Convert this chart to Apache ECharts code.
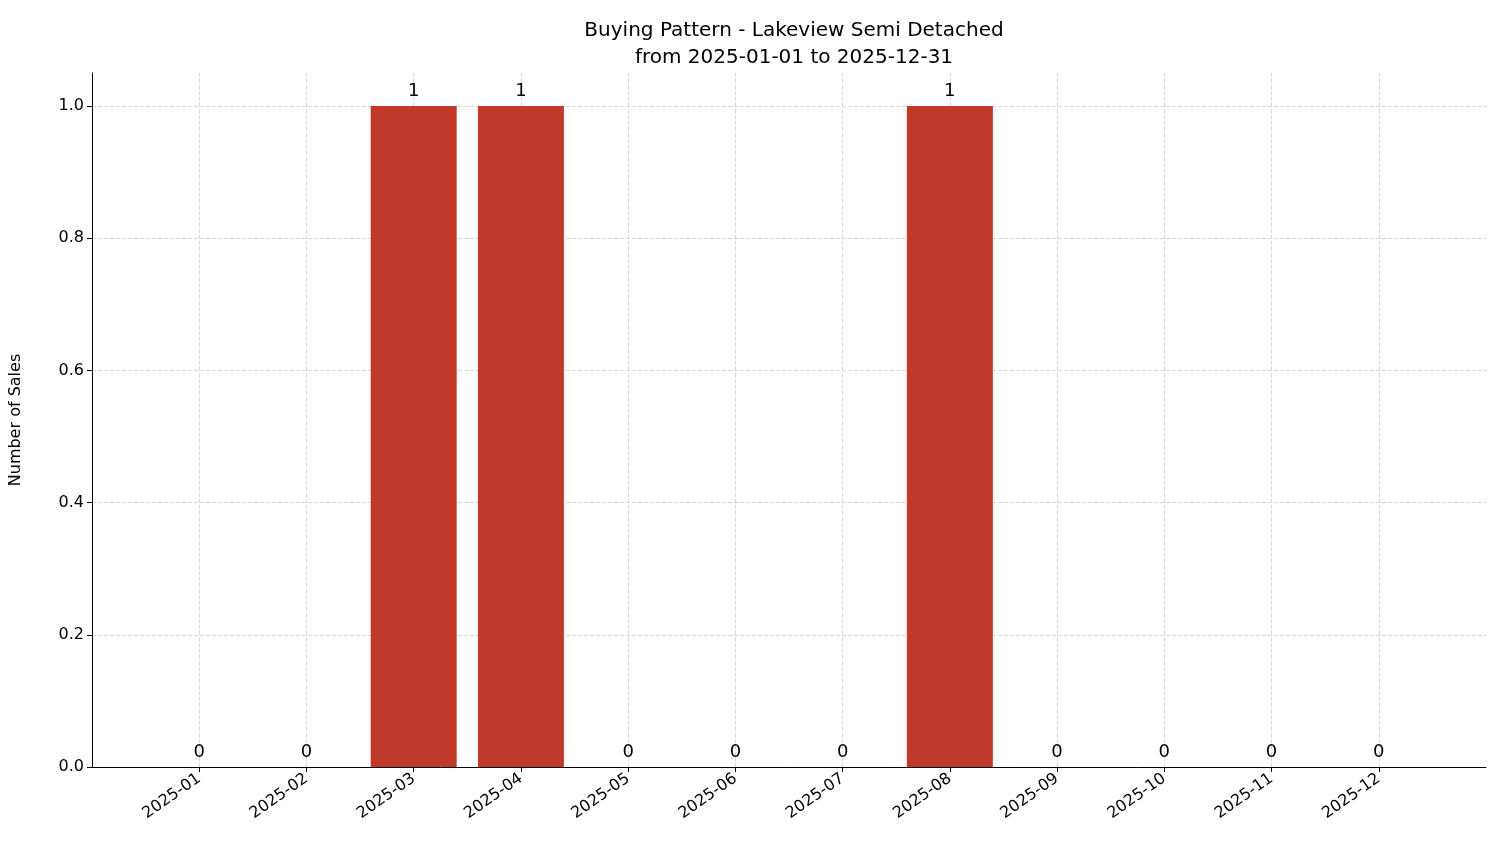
<!DOCTYPE html>
<html><head><meta charset="utf-8">
<script src="https://cdn.jsdelivr.net/npm/echarts@6/dist/echarts.min.js"></script>
<style>html,body{margin:0;background:#fff}#c{width:1501px;height:863px}</style>
</head><body><div id="c"></div>
<script>
var months = ['2025-01','2025-02','2025-03','2025-04','2025-05','2025-06','2025-07','2025-08','2025-09','2025-10','2025-11','2025-12'];
var sales = [0,0,1,1,0,0,0,1,0,0,0,0];
var yTicks = [0,0.2,0.4,0.6,0.8,1.0];
var xTicks = [0,1,2,3,4,5,6,7,8,9,10,11];

var chart = echarts.init(document.getElementById('c'));
var font = 'DejaVu Sans';
chart.setOption({
  animation: false,
  textStyle: {fontFamily: font},
  title: {
    text: 'Buying Pattern - Lakeview Semi Detached\nfrom 2025-01-01 to 2025-12-31',
    left: 789, top: 12, textAlign: 'center',
    textStyle: {fontSize: 20, fontWeight: 'normal', color: '#000', lineHeight: 27, fontFamily: font}
  },
  grid: {left: 91, right: 15, top: 73, bottom: 96},
  xAxis: {
    type: 'value', min: -1, max: 12, interval: 1,
    axisLine: {onZero: false, lineStyle: {color: '#000'}},
    axisTick: {show: true, length: 5, customValues: xTicks, lineStyle: {color: '#000'}},
    axisLabel: {rotate: 35, fontSize: 16, color: '#000', fontFamily: font, margin: 10,
      customValues: xTicks,
      formatter: function (v) { return months[v] || ''; }},
    splitLine: {show: true, lineStyle: {type: 'dashed', color: '#d8d8d8'}}
  },
  yAxis: {
    type: 'value', min: 0, max: 1.05, interval: 0.2,
    name: 'Number of Sales', nameLocation: 'middle', nameGap: 68,
    nameTextStyle: {fontSize: 16, color: '#000', fontFamily: font},
    axisLine: {show: true, onZero: false, lineStyle: {color: '#000'}},
    axisTick: {show: true, length: 5, customValues: yTicks, lineStyle: {color: '#000'}},
    axisLabel: {fontSize: 16, color: '#000', fontFamily: font, margin: 8,
      customValues: yTicks,
      formatter: function (v) { return v.toFixed(1); }},
    splitLine: {show: true, lineStyle: {type: 'dashed', color: '#d8d8d8'}}
  },
  series: [{
    type: 'bar',
    barWidth: 86,
    itemStyle: {color: '#c0392b'},
    label: {show: true, position: 'top', distance: 6, fontSize: 18, color: '#000', fontFamily: font},
    data: sales.map(function (v, i) { return [i, v]; })
  }]
});
</script></body></html>
